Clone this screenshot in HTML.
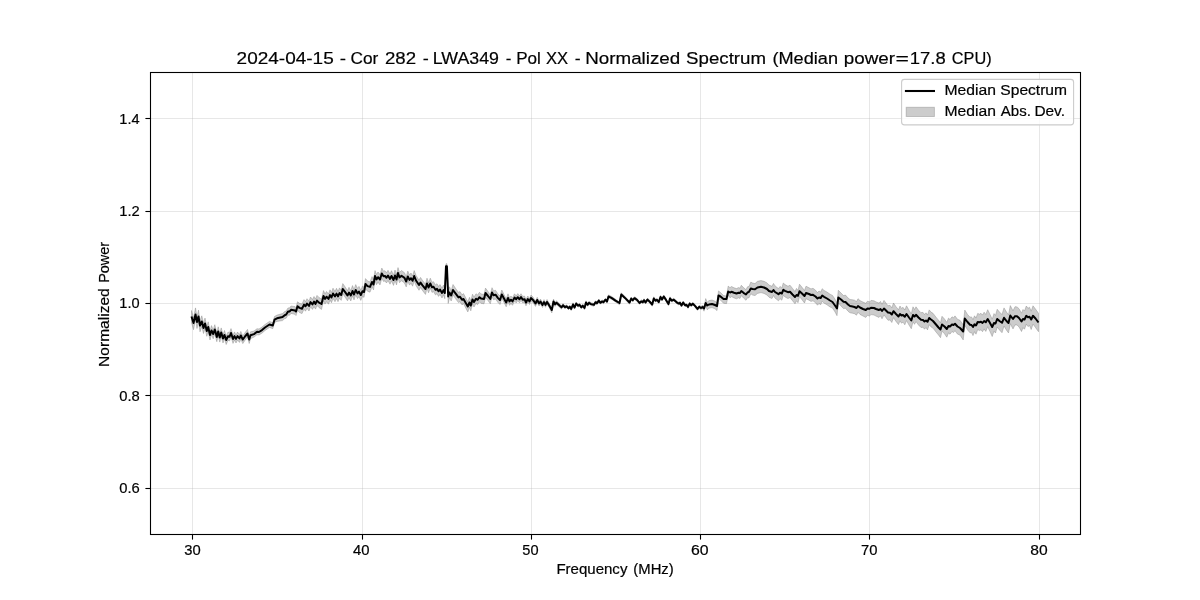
<!DOCTYPE html>
<html><head><meta charset="utf-8"><title>Normalized Spectrum</title>
<style>
html,body{margin:0;padding:0;background:#fff;}
body{width:1200px;height:600px;overflow:hidden;font-family:"Liberation Sans",sans-serif;}
svg{display:block;}
text{font-family:"Liberation Sans",sans-serif;fill:#000;stroke:#000;stroke-width:0.2px;}
</style></head><body>
<svg width="1200" height="600" viewBox="0 0 1200 600">
<rect x="0" y="0" width="1200" height="600" fill="#ffffff"/>
<g stroke="#b0b0b0" stroke-opacity="0.3" stroke-width="1" shape-rendering="crispEdges">
<line x1="192.5" y1="72.5" x2="192.5" y2="534.5"/>
<line x1="362.5" y1="72.5" x2="362.5" y2="534.5"/>
<line x1="531.5" y1="72.5" x2="531.5" y2="534.5"/>
<line x1="700.5" y1="72.5" x2="700.5" y2="534.5"/>
<line x1="869.5" y1="72.5" x2="869.5" y2="534.5"/>
<line x1="1039.5" y1="72.5" x2="1039.5" y2="534.5"/>
<line x1="150.5" y1="118.5" x2="1080.5" y2="118.5"/>
<line x1="150.5" y1="211.5" x2="1080.5" y2="211.5"/>
<line x1="150.5" y1="303.5" x2="1080.5" y2="303.5"/>
<line x1="150.5" y1="395.5" x2="1080.5" y2="395.5"/>
<line x1="150.5" y1="488.5" x2="1080.5" y2="488.5"/>
</g>
<path d="M191.5,310.5 L193.5,318.0 L195.5,307.9 L197.0,317.2 L198.5,310.1 L200.0,320.8 L201.8,315.8 L203.5,323.1 L205.0,318.1 L206.8,326.4 L208.2,321.8 L210.0,330.7 L211.5,325.6 L213.2,329.9 L214.8,324.7 L216.8,333.0 L218.2,326.8 L219.8,333.6 L221.2,327.9 L223.0,334.7 L224.5,330.5 L226.2,336.2 L228.0,332.0 L229.5,332.8 L231.0,328.6 L233.0,335.3 L234.5,331.9 L236.0,335.1 L237.5,332.0 L239.5,334.6 L240.8,331.4 L242.8,335.9 L245.0,332.7 L247.5,329.4 L249.2,336.2 L250.5,331.8 L254.0,331.1 L257.0,328.7 L259.0,329.0 L262.0,327.1 L265.0,324.5 L269.5,321.4 L272.8,322.7 L274.5,316.5 L277.0,315.1 L282.5,313.6 L285.0,311.3 L286.0,311.2 L288.0,307.9 L289.5,308.0 L291.0,306.0 L295.0,306.7 L296.0,307.7 L297.5,301.8 L299.5,303.3 L302.0,304.1 L304.0,299.6 L305.5,301.6 L307.0,298.7 L309.0,301.2 L310.5,297.0 L312.5,299.5 L314.0,296.5 L315.5,299.1 L317.0,295.4 L319.0,297.5 L321.5,299.2 L323.5,290.6 L325.0,293.9 L326.5,291.5 L328.5,294.0 L330.0,289.8 L331.5,292.5 L333.0,288.2 L335.0,291.5 L336.5,288.3 L338.0,291.5 L339.5,287.9 L341.2,290.2 L342.8,283.6 L345.0,286.8 L347.5,290.6 L349.0,287.3 L350.8,290.7 L352.5,285.6 L354.0,289.7 L355.7,284.6 L357.5,288.4 L359.0,286.4 L360.8,290.2 L362.5,286.0 L364.0,287.2 L365.5,278.6 L367.5,281.0 L370.0,282.0 L372.0,276.6 L373.5,279.7 L375.0,270.6 L376.5,274.5 L378.0,272.0 L380.0,274.7 L381.8,268.1 L383.5,271.2 L385.0,270.7 L386.5,272.8 L388.0,270.3 L390.0,274.0 L391.5,270.7 L393.5,275.2 L395.0,270.1 L396.5,274.7 L398.0,267.6 L399.5,272.5 L401.5,270.5 L404.5,272.8 L406.2,276.7 L407.8,271.1 L409.5,274.9 L411.0,273.0 L412.6,276.0 L414.2,270.6 L416.0,275.4 L419.0,280.2 L420.5,277.4 L422.5,280.4 L425.5,284.3 L427.0,278.2 L428.5,282.8 L430.3,278.2 L432.0,282.4 L433.5,281.7 L435.5,285.0 L437.0,283.7 L438.5,286.5 L440.0,284.6 L442.0,288.2 L443.5,285.0 L444.8,288.9 L446.0,263.7 L446.9,263.7 L448.2,291.1 L449.5,286.8 L451.2,290.7 L453.0,284.5 L455.5,288.3 L458.5,292.4 L460.0,291.6 L462.0,294.8 L463.5,293.6 L467.8,301.8 L469.5,297.3 L470.8,300.9 L472.5,294.2 L474.0,297.2 L476.0,293.7 L477.5,295.1 L479.5,292.3 L481.0,293.9 L484.0,294.6 L485.5,288.1 L488.0,291.5 L490.3,294.9 L492.0,287.7 L493.5,290.9 L495.5,290.3 L498.0,294.0 L500.0,296.1 L501.8,290.0 L504.0,294.5 L506.2,298.9 L508.0,293.8 L509.5,297.7 L511.0,296.0 L512.5,297.9 L514.5,293.8 L516.2,295.8 L517.8,293.6 L519.5,296.0 L521.0,293.7 L522.8,296.5 L524.5,296.0 L526.0,299.6 L527.8,296.0 L529.5,298.7 L531.0,295.1 L533.0,297.1 L535.5,301.2 L537.2,297.3 L539.0,301.0 L540.5,299.1 L542.5,302.8 L544.0,299.6 L545.5,302.8 L547.0,299.5 L549.5,303.8 L551.8,308.7 L553.5,299.1 L555.0,302.4 L556.5,300.7 L559.0,303.2 L561.5,305.9 L563.0,303.6 L565.0,305.9 L566.5,304.8 L568.5,307.0 L569.8,305.3 L571.2,307.8 L573.0,302.8 L574.5,306.3 L576.2,302.0 L578.0,304.4 L579.5,303.3 L581.2,306.0 L582.8,304.3 L584.5,307.0 L586.0,300.8 L587.5,303.5 L589.0,301.3 L591.0,302.7 L594.0,303.5 L595.5,300.8 L597.0,302.0 L598.8,299.1 L600.5,301.5 L602.0,299.9 L603.5,301.0 L605.5,298.2 L607.0,300.3 L608.5,294.9 L611.5,296.4 L615.5,299.2 L619.5,302.0 L621.3,292.8 L625.0,296.5 L629.5,301.5 L631.2,297.1 L632.8,299.0 L634.5,296.7 L637.0,298.5 L639.5,301.6 L641.5,299.9 L642.8,300.9 L644.0,298.7 L645.5,301.1 L647.5,298.1 L650.0,300.7 L652.2,303.5 L653.8,296.8 L655.5,299.4 L657.0,298.4 L658.8,300.9 L660.5,295.4 L662.0,298.2 L663.8,295.0 L666.0,298.6 L668.5,303.0 L670.0,296.8 L671.8,299.5 L673.8,298.3 L677.0,301.4 L679.0,302.4 L680.0,301.3 L681.5,304.2 L683.2,301.1 L685.0,304.0 L686.5,303.5 L688.0,305.8 L689.7,302.2 L691.2,304.0 L692.8,302.3 L695.0,304.6 L697.5,307.8 L699.2,305.3 L701.0,306.8 L702.5,305.0 L704.0,307.4 L705.7,298.6 L707.2,302.2 L709.0,300.6 L712.0,300.0 L715.0,301.2 L717.0,303.0 L718.5,290.9 L720.5,292.5 L723.5,295.6 L726.5,296.0 L728.2,286.1 L730.0,287.7 L731.5,286.5 L734.0,287.8 L736.5,288.6 L738.5,287.6 L740.0,288.2 L741.3,285.3 L743.5,287.6 L746.0,289.7 L747.5,286.8 L749.0,286.5 L750.8,282.1 L752.5,283.0 L755.0,283.6 L757.5,281.3 L761.0,280.6 L764.0,281.3 L767.0,282.9 L769.0,285.1 L772.0,286.3 L773.5,283.4 L775.0,285.9 L778.5,288.6 L780.0,286.4 L781.8,288.0 L783.3,283.0 L785.0,284.6 L788.0,286.3 L790.0,285.2 L792.5,288.4 L795.0,291.5 L796.5,288.4 L798.0,290.4 L799.5,284.2 L802.0,287.3 L804.5,290.5 L806.0,286.2 L809.0,287.8 L811.0,288.9 L813.0,288.3 L815.5,290.2 L817.5,292.6 L819.0,291.0 L820.7,292.1 L822.2,288.7 L824.0,290.4 L827.0,292.1 L830.0,294.2 L832.5,295.4 L835.0,299.2 L837.0,303.0 L838.3,290.3 L841.0,293.0 L843.5,295.6 L845.5,295.1 L848.0,298.0 L850.0,299.5 L852.5,299.8 L854.5,300.2 L856.5,301.6 L858.0,298.7 L860.0,300.6 L863.0,302.1 L865.8,303.3 L867.5,301.2 L869.5,301.9 L871.0,300.4 L874.0,300.8 L876.0,301.9 L879.0,303.1 L880.5,301.4 L882.0,304.4 L884.0,300.4 L888.0,305.8 L890.0,305.3 L891.8,307.9 L893.5,303.0 L896.0,306.7 L898.5,309.8 L900.0,306.0 L901.5,308.4 L903.0,307.3 L904.8,310.0 L906.5,305.8 L909.0,310.2 L911.3,313.9 L913.0,306.8 L914.5,309.5 L916.0,306.8 L918.5,310.2 L921.0,312.7 L923.0,312.4 L924.5,314.5 L926.0,312.8 L927.5,315.1 L929.2,309.9 L931.0,312.1 L933.0,313.3 L936.0,317.2 L938.5,320.2 L940.5,322.9 L942.0,316.3 L944.5,319.0 L946.8,322.4 L948.5,318.1 L950.0,319.5 L952.0,316.8 L953.5,317.8 L955.0,315.9 L957.5,319.3 L960.0,320.3 L963.2,324.8 L964.8,310.1 L967.5,314.4 L970.0,317.2 L971.5,316.9 L973.0,319.7 L974.5,315.8 L976.0,318.1 L977.7,313.4 L979.5,314.2 L981.0,313.3 L982.5,315.1 L984.1,312.2 L985.8,314.5 L987.7,309.7 L990.0,314.4 L992.2,319.2 L994.0,313.6 L995.5,315.4 L997.2,309.3 L999.5,312.0 L1002.0,314.6 L1004.0,307.9 L1006.5,312.1 L1008.5,314.8 L1010.3,305.6 L1013.0,310.8 L1015.0,306.7 L1017.0,306.9 L1019.0,308.7 L1021.5,313.2 L1023.0,309.5 L1024.5,311.0 L1026.3,306.0 L1028.0,308.3 L1029.5,307.2 L1031.2,311.2 L1033.0,305.8 L1035.5,309.1 L1038.5,313.3 L1038.5,331.7 L1035.5,327.5 L1033.0,324.1 L1031.2,329.5 L1029.5,325.5 L1028.0,326.6 L1026.3,324.2 L1024.5,329.2 L1023.0,327.7 L1021.5,331.5 L1019.0,326.9 L1017.0,325.0 L1015.0,324.9 L1013.0,328.9 L1010.3,323.7 L1008.5,332.9 L1006.5,330.2 L1004.0,326.0 L1002.0,332.7 L999.5,330.0 L997.2,327.0 L995.5,333.0 L994.0,331.1 L992.2,336.5 L990.0,331.6 L987.7,326.7 L985.8,331.4 L984.1,328.9 L982.5,331.7 L981.0,329.8 L979.5,330.6 L977.7,329.6 L976.0,334.2 L974.5,331.7 L973.0,335.6 L971.5,332.6 L970.0,332.8 L967.5,329.8 L964.8,325.3 L963.2,339.9 L960.0,335.1 L957.5,334.1 L955.0,330.7 L953.5,332.6 L952.0,331.5 L950.0,334.2 L948.5,332.9 L946.8,337.2 L944.5,333.8 L942.0,331.1 L940.5,337.7 L938.5,335.0 L936.0,332.0 L933.0,328.1 L931.0,326.9 L929.2,324.7 L927.5,329.9 L926.0,327.6 L924.5,329.2 L923.0,327.2 L921.0,327.5 L918.5,325.0 L916.0,321.6 L914.5,324.3 L913.0,321.6 L911.3,328.7 L909.0,325.0 L906.5,320.6 L904.8,324.8 L903.0,322.1 L901.5,323.2 L900.0,320.8 L898.5,324.6 L896.0,321.4 L893.5,317.7 L891.8,322.5 L890.0,319.9 L888.0,320.3 L884.0,314.9 L882.0,318.8 L880.5,315.8 L879.0,317.4 L876.0,316.1 L874.0,315.0 L871.0,314.6 L869.5,316.0 L867.5,315.3 L865.8,317.4 L863.0,316.0 L860.0,314.4 L858.0,312.3 L856.5,315.2 L854.5,313.7 L852.5,313.2 L850.0,312.8 L848.0,311.2 L845.5,308.2 L843.5,308.6 L841.0,305.9 L838.3,303.1 L837.0,315.7 L835.0,311.9 L832.5,308.1 L830.0,306.9 L827.0,304.8 L824.0,303.1 L822.2,301.3 L820.7,304.7 L819.0,303.6 L817.5,305.2 L815.5,302.7 L813.0,300.8 L811.0,301.4 L809.0,300.2 L806.0,298.7 L804.5,303.0 L802.0,299.7 L799.5,296.6 L798.0,302.7 L796.5,300.8 L795.0,303.8 L792.5,300.7 L790.0,297.5 L788.0,298.6 L785.0,296.9 L783.3,295.3 L781.8,300.2 L780.0,298.6 L778.5,300.8 L775.0,298.1 L773.5,295.5 L772.0,298.5 L769.0,297.2 L767.0,295.0 L764.0,293.4 L761.0,292.6 L757.5,293.4 L755.0,295.6 L752.5,295.0 L750.8,293.8 L749.0,297.8 L747.5,297.8 L746.0,300.3 L743.5,298.0 L741.3,295.6 L740.0,298.4 L738.5,297.8 L736.5,298.8 L734.0,297.9 L731.5,296.6 L730.0,297.8 L728.2,295.2 L726.5,303.6 L723.5,303.2 L720.5,300.1 L718.5,298.5 L717.0,310.6 L715.0,308.8 L712.0,307.6 L709.0,308.2 L707.2,309.8 L705.7,305.7 L704.0,311.2 L702.5,308.3 L701.0,309.7 L699.2,308.0 L697.5,310.4 L695.0,307.2 L692.8,304.9 L691.2,306.6 L689.7,304.8 L688.0,308.4 L686.5,306.1 L685.0,306.6 L683.2,303.8 L681.5,306.9 L680.0,304.0 L679.0,305.0 L677.0,304.0 L673.8,300.9 L671.8,302.1 L670.0,299.5 L668.5,305.7 L666.0,301.3 L663.8,297.6 L662.0,300.8 L660.5,298.1 L658.8,303.6 L657.0,301.1 L655.5,302.1 L653.8,299.5 L652.2,306.2 L650.0,303.3 L647.5,300.8 L645.5,303.8 L644.0,301.4 L642.8,303.6 L641.5,302.6 L639.5,304.3 L637.0,301.2 L634.5,299.4 L632.8,301.7 L631.2,299.8 L629.5,304.2 L625.0,299.2 L621.3,295.5 L619.5,304.7 L615.5,301.9 L611.5,299.2 L608.5,297.7 L607.0,303.1 L605.5,300.9 L603.5,303.7 L602.0,302.7 L600.5,304.2 L598.8,301.9 L597.0,304.7 L595.5,303.5 L594.0,306.2 L591.0,305.5 L589.0,304.0 L587.5,306.3 L586.0,303.5 L584.5,309.7 L582.8,307.0 L581.2,308.8 L579.5,306.0 L578.0,307.2 L576.2,304.8 L574.5,309.1 L573.0,305.6 L571.2,310.6 L569.8,308.0 L568.5,309.7 L566.5,307.6 L565.0,308.7 L563.0,306.6 L561.5,309.1 L559.0,306.8 L556.5,304.5 L555.0,306.4 L553.5,303.2 L551.8,312.9 L549.5,308.1 L547.0,304.0 L545.5,307.3 L544.0,304.3 L542.5,307.5 L540.5,303.9 L539.0,306.0 L537.2,302.3 L535.5,306.4 L533.0,302.5 L531.0,300.8 L529.5,304.5 L527.8,301.9 L526.0,305.8 L524.5,302.3 L522.8,303.0 L521.0,300.4 L519.5,302.8 L517.8,300.6 L516.2,302.9 L514.5,301.1 L512.5,305.3 L511.0,303.5 L509.5,305.3 L508.0,301.5 L506.2,306.8 L504.0,302.5 L501.8,298.3 L500.0,304.5 L498.0,302.5 L495.5,298.9 L493.5,299.7 L492.0,296.6 L490.3,303.8 L488.0,300.5 L485.5,297.2 L484.0,303.8 L481.0,303.3 L479.5,301.8 L477.5,304.7 L476.0,303.4 L474.0,307.0 L472.5,304.1 L470.8,310.8 L469.5,307.3 L467.8,311.9 L463.5,303.7 L462.0,304.9 L460.0,301.7 L458.5,302.6 L455.5,298.6 L453.0,294.8 L451.2,301.0 L449.5,297.6 L448.2,303.5 L446.9,267.3 L446.0,267.3 L444.8,298.7 L443.5,294.8 L442.0,298.0 L440.0,294.4 L438.5,296.4 L437.0,293.6 L435.5,294.9 L433.5,291.6 L432.0,292.4 L430.3,288.1 L428.5,292.8 L427.0,288.2 L425.5,294.4 L422.5,290.5 L420.5,287.5 L419.0,290.3 L416.0,285.6 L414.2,280.7 L412.6,286.2 L411.0,283.2 L409.5,285.1 L407.8,281.3 L406.2,286.9 L404.5,283.0 L401.5,280.7 L399.5,282.7 L398.0,277.8 L396.5,284.9 L395.0,280.3 L393.5,285.4 L391.5,280.9 L390.0,284.2 L388.0,280.5 L386.5,283.0 L385.0,280.9 L383.5,281.4 L381.8,278.3 L380.0,284.9 L378.0,282.2 L376.5,284.7 L375.0,280.8 L373.5,289.9 L372.0,286.8 L370.0,292.2 L367.5,291.2 L365.5,288.8 L364.0,297.4 L362.5,296.2 L360.8,300.4 L359.0,296.6 L357.5,298.6 L355.7,294.8 L354.0,299.9 L352.5,295.8 L350.8,300.9 L349.0,297.5 L347.5,300.8 L345.0,297.0 L342.8,293.8 L341.2,300.4 L339.5,298.1 L338.0,301.7 L336.5,298.5 L335.0,301.7 L333.0,298.4 L331.5,302.7 L330.0,300.0 L328.5,304.2 L326.5,301.7 L325.0,304.1 L323.5,300.8 L321.5,309.4 L319.0,307.6 L317.0,305.5 L315.5,309.1 L314.0,306.5 L312.5,309.4 L310.5,306.8 L309.0,311.0 L307.0,308.3 L305.5,311.2 L304.0,309.2 L302.0,313.6 L299.5,312.5 L297.5,310.3 L296.0,315.6 L295.0,314.3 L291.0,313.4 L289.5,315.3 L288.0,315.1 L286.0,318.4 L285.0,318.3 L282.5,320.6 L277.0,321.4 L274.5,322.5 L272.8,328.7 L269.5,327.4 L265.0,330.5 L262.0,333.1 L259.0,335.0 L257.0,334.7 L254.0,337.1 L250.5,338.7 L249.2,343.5 L247.5,337.0 L245.0,340.3 L242.8,343.6 L240.8,339.2 L239.5,342.4 L237.5,340.0 L236.0,343.0 L234.5,339.9 L233.0,343.4 L231.0,336.7 L229.5,341.0 L228.0,340.2 L226.2,344.5 L224.5,338.8 L223.0,343.0 L221.2,336.4 L219.8,342.1 L218.2,335.5 L216.8,341.7 L214.8,333.6 L213.2,338.8 L211.5,334.7 L210.0,340.0 L208.2,331.5 L206.8,336.3 L205.0,328.2 L203.5,333.5 L201.8,326.5 L200.0,331.8 L198.5,321.2 L197.0,328.5 L195.5,319.4 L193.5,329.7 L191.5,322.5Z" fill="#808080" fill-opacity="0.4" stroke="#808080" stroke-opacity="0.4" stroke-width="1" stroke-linejoin="miter"/>
<path d="M191.5,316.5 L193.5,323.0 L195.5,314.5 L197.0,322.0 L198.5,316.5 L200.0,325.5 L201.8,321.5 L203.5,328.0 L205.0,323.5 L206.8,331.0 L208.2,327.0 L210.0,335.0 L211.5,330.5 L213.2,334.0 L214.8,329.5 L216.8,337.0 L218.2,331.5 L219.8,337.5 L221.2,332.5 L223.0,338.5 L224.5,335.0 L226.2,340.0 L228.0,336.2 L229.5,336.8 L231.0,333.0 L233.0,339.0 L234.5,336.1 L236.0,338.9 L237.5,336.1 L239.5,338.4 L240.8,335.5 L242.8,339.5 L245.0,336.5 L247.5,333.5 L249.2,339.5 L250.5,335.3 L254.0,334.1 L257.0,331.8 L259.0,332.0 L262.0,330.1 L265.0,327.5 L269.5,324.5 L272.8,325.5 L274.5,319.7 L277.0,318.3 L282.5,317.1 L285.0,314.9 L286.0,314.7 L288.0,311.6 L289.5,311.6 L291.0,309.8 L295.0,310.5 L296.0,311.5 L297.5,306.3 L299.5,307.9 L302.0,308.7 L304.0,304.6 L305.5,306.3 L307.0,303.6 L309.0,305.9 L310.5,302.1 L312.5,304.4 L314.0,301.6 L315.5,303.9 L317.0,300.6 L319.0,302.6 L321.5,304.0 L323.5,296.0 L325.0,298.9 L326.5,296.7 L328.5,298.9 L330.0,295.1 L331.5,297.4 L333.0,293.5 L335.0,296.4 L336.5,293.6 L338.0,296.4 L339.5,293.1 L341.2,295.0 L342.8,289.0 L345.0,291.9 L347.5,295.5 L349.0,292.6 L350.8,295.5 L352.5,291.0 L354.0,294.5 L355.7,290.0 L357.5,293.4 L359.0,291.6 L360.8,295.0 L362.5,291.2 L364.0,292.0 L365.5,284.0 L367.5,286.1 L370.0,286.9 L372.0,282.0 L373.5,284.5 L375.0,276.0 L376.5,279.4 L378.0,277.2 L380.0,279.5 L381.8,273.5 L383.5,276.2 L385.0,275.9 L386.5,277.8 L388.0,275.6 L390.0,278.9 L391.5,276.0 L393.5,280.0 L395.0,275.5 L396.5,279.5 L398.0,273.0 L399.5,277.4 L401.5,275.7 L404.5,277.9 L406.2,281.5 L407.8,276.5 L409.5,279.9 L411.0,278.2 L412.6,280.8 L414.2,276.0 L416.0,280.5 L419.0,285.0 L420.5,282.6 L422.5,285.4 L425.5,289.0 L427.0,283.5 L428.5,287.5 L430.3,283.5 L432.0,287.3 L433.5,286.8 L435.5,289.8 L437.0,288.8 L438.5,291.3 L440.0,289.6 L442.0,292.9 L443.5,290.1 L444.8,293.0 L446.0,266.3 L446.9,266.3 L448.2,296.5 L449.5,292.5 L451.2,295.5 L453.0,290.0 L455.5,293.4 L458.5,297.4 L460.0,296.8 L462.0,299.8 L463.5,299.0 L467.8,306.5 L469.5,302.5 L470.8,305.5 L472.5,299.5 L474.0,301.9 L476.0,298.7 L477.5,299.8 L479.5,297.2 L481.0,298.6 L484.0,299.0 L485.5,293.0 L488.0,296.0 L490.3,299.0 L492.0,292.5 L493.5,295.2 L495.5,294.7 L498.0,298.1 L500.0,300.0 L501.8,294.5 L504.0,298.5 L506.2,302.5 L508.0,298.0 L509.5,301.4 L511.0,299.8 L512.5,301.4 L514.5,297.6 L516.2,299.2 L517.8,297.2 L519.5,299.3 L521.0,297.1 L522.8,299.7 L524.5,299.2 L526.0,302.5 L527.8,299.1 L529.5,301.4 L531.0,298.1 L533.0,299.9 L535.5,303.5 L537.2,300.0 L539.0,303.4 L540.5,301.6 L542.5,304.9 L544.0,302.1 L545.5,304.9 L547.0,302.0 L549.5,305.9 L551.8,310.0 L553.5,301.5 L555.0,304.3 L556.5,302.7 L559.0,305.0 L561.5,307.4 L563.0,305.2 L565.0,307.2 L566.5,306.3 L568.5,308.2 L569.8,306.8 L571.2,309.0 L573.0,304.5 L574.5,307.5 L576.2,303.6 L578.0,305.7 L579.5,304.8 L581.2,307.3 L582.8,305.8 L584.5,308.0 L586.0,302.5 L587.5,304.8 L589.0,302.8 L591.0,304.1 L594.0,304.8 L595.5,302.2 L597.0,303.2 L598.8,300.6 L600.5,302.8 L602.0,301.4 L603.5,302.2 L605.5,299.7 L607.0,301.5 L608.5,296.5 L611.5,297.9 L615.5,300.6 L619.5,303.0 L621.3,294.5 L625.0,297.9 L629.5,302.5 L631.2,298.6 L632.8,300.2 L634.5,298.2 L637.0,299.9 L639.5,302.9 L641.5,301.4 L642.8,302.2 L644.0,300.2 L645.5,302.4 L647.5,299.6 L650.0,302.0 L652.2,304.5 L653.8,298.5 L655.5,300.7 L657.0,299.8 L658.8,302.0 L660.5,297.0 L662.0,299.4 L663.8,296.5 L666.0,299.9 L668.5,304.0 L670.0,298.5 L671.8,300.7 L673.8,299.7 L677.0,302.6 L679.0,303.6 L680.0,302.8 L681.5,305.4 L683.2,302.6 L685.0,305.2 L686.5,304.9 L688.0,306.9 L689.7,303.6 L691.2,305.2 L692.8,303.7 L695.0,305.9 L697.5,308.9 L699.2,306.8 L701.0,308.0 L702.5,307.0 L704.0,308.5 L705.7,303.0 L707.2,305.5 L709.0,304.5 L712.0,304.0 L715.0,305.0 L717.0,306.0 L718.5,295.5 L720.5,296.5 L723.5,299.0 L726.5,299.0 L728.2,291.5 L730.0,292.5 L731.5,291.8 L734.0,292.8 L736.5,293.5 L738.5,292.8 L740.0,293.0 L741.3,291.0 L743.5,292.8 L746.0,294.5 L747.5,292.5 L749.0,291.8 L750.8,288.5 L752.5,289.0 L755.0,289.3 L757.5,287.5 L761.0,286.8 L764.0,287.5 L767.0,289.0 L769.0,291.0 L772.0,292.0 L773.5,290.0 L775.0,292.0 L778.5,294.2 L780.0,292.8 L781.8,293.5 L783.3,289.8 L785.0,290.8 L788.0,292.2 L790.0,291.8 L792.5,294.5 L795.0,297.0 L796.5,295.0 L798.0,295.8 L799.5,291.2 L802.0,293.5 L804.5,296.0 L806.0,293.0 L809.0,294.0 L811.0,295.0 L813.0,294.8 L815.5,296.5 L817.5,298.5 L819.0,297.5 L820.7,298.0 L822.2,295.5 L824.0,296.8 L827.0,298.5 L830.0,300.5 L832.5,302.0 L835.0,305.5 L837.0,308.5 L838.3,297.5 L841.0,299.5 L843.5,301.8 L845.5,302.0 L848.0,304.5 L850.0,306.0 L852.5,306.5 L854.5,307.0 L856.5,308.0 L858.0,306.0 L860.0,307.5 L863.0,309.0 L865.8,310.0 L867.5,308.5 L869.5,308.8 L871.0,307.7 L874.0,308.0 L876.0,309.0 L879.0,310.0 L880.5,309.0 L882.0,311.0 L884.0,308.5 L888.0,312.5 L890.0,312.8 L891.8,314.5 L893.5,311.2 L896.0,314.0 L898.5,316.5 L900.0,314.0 L901.5,315.5 L903.0,315.0 L904.8,316.8 L906.5,314.0 L909.0,317.5 L911.3,320.5 L913.0,315.0 L914.5,316.5 L916.0,314.8 L918.5,317.5 L921.0,319.8 L923.0,320.0 L924.5,321.5 L926.0,320.5 L927.5,321.8 L929.2,318.0 L931.0,319.5 L933.0,321.0 L936.0,324.5 L938.5,327.5 L940.5,329.5 L942.0,324.5 L944.5,326.5 L946.8,329.0 L948.5,326.0 L950.0,326.5 L952.0,324.5 L953.5,325.0 L955.0,323.8 L957.5,326.5 L960.0,328.0 L963.2,331.5 L964.8,318.5 L967.5,322.0 L970.0,324.7 L971.5,325.0 L973.0,327.0 L974.5,324.3 L976.0,325.5 L977.7,322.0 L979.5,322.3 L981.0,321.8 L982.5,323.0 L984.1,321.0 L985.8,322.3 L987.7,319.0 L990.0,323.0 L992.2,327.0 L994.0,323.0 L995.5,323.5 L997.2,319.0 L999.5,321.0 L1002.0,322.8 L1004.0,317.8 L1006.5,321.0 L1008.5,323.0 L1010.3,315.5 L1013.0,319.0 L1015.0,316.2 L1017.0,316.2 L1019.0,318.0 L1021.5,321.5 L1023.0,319.0 L1024.5,319.5 L1026.3,315.8 L1028.0,317.2 L1029.5,316.8 L1031.2,319.5 L1033.0,315.8 L1035.5,318.5 L1038.5,322.5" fill="none" stroke="#000" stroke-width="2.0" stroke-linejoin="round" stroke-linecap="butt"/>
<rect x="150.5" y="72.5" width="930" height="462" fill="none" stroke="#000" stroke-width="1.1"/>
<g stroke="#000" stroke-width="1.1">
<line x1="192.5" y1="534.5" x2="192.5" y2="539.6"/>
<line x1="362.5" y1="534.5" x2="362.5" y2="539.6"/>
<line x1="531.5" y1="534.5" x2="531.5" y2="539.6"/>
<line x1="700.5" y1="534.5" x2="700.5" y2="539.6"/>
<line x1="869.5" y1="534.5" x2="869.5" y2="539.6"/>
<line x1="1039.5" y1="534.5" x2="1039.5" y2="539.6"/>
<line x1="145.4" y1="118.5" x2="150.5" y2="118.5"/>
<line x1="145.4" y1="211.5" x2="150.5" y2="211.5"/>
<line x1="145.4" y1="303.5" x2="150.5" y2="303.5"/>
<line x1="145.4" y1="395.5" x2="150.5" y2="395.5"/>
<line x1="145.4" y1="488.5" x2="150.5" y2="488.5"/>
</g>
<rect x="901.6" y="79.4" width="172" height="45.5" rx="2.8" ry="2.8" fill="#fff" fill-opacity="0.8" stroke="#cccccc" stroke-width="1.1"/>
<line x1="904.9" y1="91" x2="935" y2="91" stroke="#000" stroke-width="2.08"/>
<rect x="906.2" y="107.3" width="28.2" height="9.2" fill="#808080" fill-opacity="0.4" stroke="#808080" stroke-opacity="0.4" stroke-width="1"/>
<g opacity="0.999">
<text transform="translate(236.61,64.00) scale(1.1043,1)" font-size="17.2">2024-04-15</text>
<text transform="translate(339.71,64.00) scale(1.0944,1)" font-size="17.2">-</text>
<text transform="translate(350.49,64.00) scale(1.0065,1)" font-size="17.2">Cor</text>
<text transform="translate(384.93,64.00) scale(1.0848,1)" font-size="17.2">282</text>
<text transform="translate(422.64,64.00) scale(1.0506,1)" font-size="17.2">-</text>
<text transform="translate(432.81,64.00) scale(1.0336,1)" font-size="17.2">LWA349</text>
<text transform="translate(505.77,64.00) scale(0.9850,1)" font-size="17.2">-</text>
<text transform="translate(516.17,64.00) scale(0.9919,1)" font-size="17.2">Pol</text>
<text transform="translate(546.04,64.00) scale(0.9648,1)" font-size="17.2">XX</text>
<text transform="translate(574.75,64.00) scale(1.0287,1)" font-size="17.2">-</text>
<text transform="translate(585.23,64.00) scale(1.0924,1)" font-size="17.2">Normalized</text>
<text transform="translate(686.12,64.00) scale(1.0848,1)" font-size="17.2">Spectrum</text>
<text transform="translate(772.45,64.00) scale(1.0552,1)" font-size="17.2">(Median</text>
<text transform="translate(843.82,64.00) scale(1.0944,1)" font-size="17.2">power</text>
<text transform="translate(895.42,64.00) scale(1.3372,1)" font-size="17.2">=</text>
<text transform="translate(909.85,64.00) scale(1.0724,1)" font-size="17.2">17.8</text>
<text transform="translate(951.73,64.00) scale(0.9493,1)" font-size="17.2">CPU)</text>
<text transform="translate(556.42,573.70) scale(1.0520,1)" font-size="14.3">Frequency</text>
<text transform="translate(633.30,573.70) scale(1.0399,1)" font-size="14.3">(MHz)</text>
<text transform="translate(944.47,95.10) scale(1.0982,1)" font-size="14.3">Median</text>
<text transform="translate(1000.31,95.10) scale(1.0915,1)" font-size="14.3">Spectrum</text>
<text transform="translate(944.47,115.50) scale(1.0982,1)" font-size="14.3">Median</text>
<text transform="translate(1000.80,115.50) scale(1.0541,1)" font-size="14.3">Abs.</text>
<text transform="translate(1034.39,115.50) scale(1.0797,1)" font-size="14.3">Dev.</text>
<text transform="translate(184.24,555.10) scale(1.0329,1)" font-size="14.3">30</text>
<text transform="translate(353.07,555.10) scale(1.0374,1)" font-size="14.3">40</text>
<text transform="translate(522.34,555.10) scale(1.0197,1)" font-size="14.3">50</text>
<text transform="translate(690.96,555.10) scale(1.1089,1)" font-size="14.3">60</text>
<text transform="translate(861.11,555.10) scale(1.0350,1)" font-size="14.3">70</text>
<text transform="translate(1030.21,555.10) scale(1.0925,1)" font-size="14.3">80</text>
<text transform="translate(119.29,124.00) scale(1.0199,1)" font-size="14.3">1.4</text>
<text transform="translate(119.28,215.90) scale(1.0323,1)" font-size="14.3">1.2</text>
<text transform="translate(119.29,307.80) scale(1.0199,1)" font-size="14.3">1.0</text>
<text transform="translate(119.24,400.90) scale(1.0343,1)" font-size="14.3">0.8</text>
<text transform="translate(119.24,492.80) scale(1.0343,1)" font-size="14.3">0.6</text>
<text transform="translate(109.30,366.92) rotate(-90) scale(1.0881,1)" font-size="14.3">Normalized</text>
<text transform="translate(109.30,282.83) rotate(-90) scale(1.0090,1)" font-size="14.3">Power</text>
</g>
</svg></body></html>
